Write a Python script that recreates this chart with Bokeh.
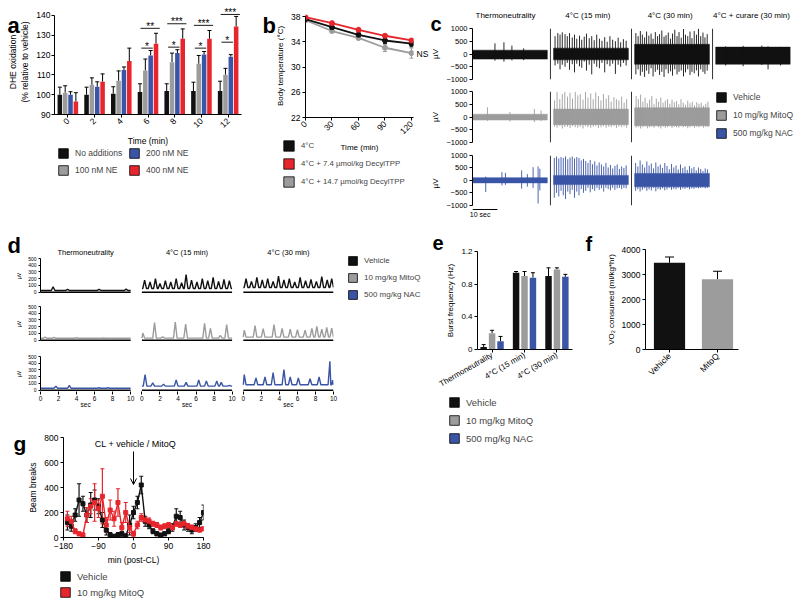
import math
from bokeh.plotting import figure
from bokeh.layouts import row, column
from bokeh.models import (Range1d, FixedTicker, Legend, LegendItem, Whisker, TeeHead,
                          ColumnDataSource, Label, Arrow, OpenHead, GridBox)
from bokeh.core.properties import value
from bokeh.embed import file_html
from bokeh.resources import INLINE

FONT = "Liberation Sans"
BLACK = "#111111"
GRAY = "#9c9c9c"
BLUE = "#3a55a6"
RED = "#e6262c"

# ---------------- panel a data ----------------
a_times = [0, 2, 4, 6, 8, 10, 12]
a_labels = ["No additions", "100 nM NE", "200 nM NE", "400 nM NE"]
a_none = [100, 100, 100.5, 101.3, 101.8, 101.8, 101.8]
a_none_err = [3.8, 3.8, 3.5, 4.2, 3.7, 4.5, 5.0]
a_ne100 = [101, 105, 107, 112.2, 116.4, 115.6, 110.1]
a_ne100_err = [3.5, 3.5, 5.0, 5.8, 4.6, 4.2, 3.2]
a_ne200 = [100, 104, 112.5, 119.8, 121, 120.3, 119.2]
a_ne200_err = [1.5, 2.5, 1.5, 2.5, 1.7, 1.5, 1.0]
a_ne400 = [96.5, 106.5, 117, 125.7, 128.2, 128.2, 134.4]
a_ne400_err = [4.5, 4.0, 6.5, 5.3, 5.0, 4.2, 5.1]
a_sig_times = [6, 8, 10, 12]
a_sig_low_y = [123.5, 124, 123.5, 126.5]
a_sig_low_txt = ["*", "*", "*", "*"]
a_sig_high_y = [133.5, 135.8, 135, 140.5]
a_sig_high_txt = ["**", "***", "***", "***"]

# ---------------- panel b data ----------------
b_times = [0, 30, 60, 90, 120]
b_labels = ["4°C", "4°C + 7.4 µmol/kg DecylTPP", "4°C + 14.7 µmol/kg DecylTPP"]
b_cold = [37.6, 36.3, 35.1, 34.2, 33.7]
b_cold_err = [0.15, 0.3, 0.4, 0.5, 0.5]
b_d74 = [37.9, 36.95, 35.9, 34.95, 34.2]
b_d74_err = [0.1, 0.2, 0.2, 0.2, 0.25]
b_d147 = [37.4, 35.7, 34.6, 33.05, 32.2]
b_d147_err = [0.2, 0.25, 0.3, 0.6, 0.8]

# ---------------- panel c data (EMG: band half-widths + spikes, µV; t in s) ----------------
c_titles = ["Thermoneutrality", "4°C (15 min)", "4°C (30 min)", "4°C + curare (30 min)"]
group_labels = ["Vehicle", "10 mg/kg MitoQ", "500 mg/kg NAC"]
c_veh_thermo = dict(band=(150, -200), t=[9.0, 12.6, 15.8, 20.5], up=[420, 460, 330, 220], down=[-260, -300, -250, -240])
c_veh_15 = dict(band=(230, -230),
                t=[0.6, 1.7, 2.6, 3.5, 4.6, 5.5, 6.4, 7.5, 8.4, 9.3, 10.4, 11.3, 12.3, 13.2, 14.3, 15.3, 16.3, 17.3, 18.4, 19.4, 20.5, 21.5, 22.6, 23.7, 24.8, 25.9, 26.9, 28.0, 29.1],
                up=[700, 820, 760, 850, 780, 700, 820, 650, 760, 600, 720, 560, 680, 800, 620, 700, 540, 760, 600, 520, 660, 480, 700, 560, 500, 640, 460, 580, 520],
                down=[-450, -380, -600, -420, -500, -350, -620, -400, -720, -380, -480, -540, -300, -650, -420, -800, -380, -500, -560, -350, -720, -400, -480, -380, -780, -420, -500, -350, -450])
c_veh_30 = dict(band=(380, -400),
                t=[0.5, 1.4, 2.3, 3.1, 4.0, 4.8, 5.7, 6.6, 7.4, 8.3, 9.2, 10.0, 10.9, 11.8, 12.6, 13.5, 14.4, 15.2, 16.1, 17.0, 17.8, 18.7, 19.6, 20.4, 21.3, 22.2, 23.0, 23.9, 24.8, 25.6, 26.5, 27.4, 28.2, 29.1],
                up=[820, 700, 900, 760, 650, 880, 720, 800, 600, 860, 700, 780, 920, 680, 740, 840, 600, 800, 950, 700, 860, 640, 980, 760, 700, 880, 620, 900, 760, 990, 700, 840, 650, 780],
                down=[-800, -600, -850, -700, -900, -650, -780, -560, -880, -700, -620, -820, -700, -900, -600, -760, -680, -850, -600, -800, -700, -650, -880, -720, -600, -820, -700, -760, -640, -880, -600, -700, -780, -650])
c_veh_curare = dict(band=(270, -400), t=[4.0, 11.0, 18.5, 21.0, 26.0], up=[300, 320, 330, 300, 280], down=[-450, -480, -430, -600, -450])
c_mq_thermo = dict(band=(110, -120), t=[6.0, 15.0, 24.8, 27.5], up=[380, 200, 320, 260], down=[-150, -180, -200, -160])
c_mq_15 = dict(band=(310, -300),
               t=[0.4, 1.4, 2.5, 3.5, 4.5, 5.6, 6.6, 7.6, 8.7, 9.7, 10.7, 11.8, 12.8, 13.8, 14.9, 15.9, 16.9, 18.0, 19.0, 20.0, 21.1, 22.1, 23.1, 24.2, 25.2, 26.2, 27.3, 28.3, 29.3],
               up=[650, 980, 700, 900, 990, 800, 950, 720, 990, 850, 900, 680, 980, 760, 920, 700, 960, 820, 650, 900, 720, 850, 600, 780, 700, 650, 800, 560, 700],
               down=[-380, -420, -350, -450, -400, -380, -430, -360, -400, -420, -380, -450, -360, -400, -420, -380, -350, -430, -400, -360, -420, -380, -400, -350, -430, -380, -400, -360, -420])
c_mq_30 = dict(band=(360, -340),
               t=[0.6, 1.5, 2.4, 3.3, 4.2, 5.1, 6.0, 6.9, 7.8, 8.7, 9.6, 10.5, 11.4, 12.3, 13.2, 14.1, 15.0, 15.9, 16.8, 17.7, 18.6, 19.5, 20.4, 21.3, 22.2, 23.1, 24.0, 24.9, 25.8, 26.7, 27.6, 28.5, 29.4],
               up=[820, 700, 880, 600, 760, 540, 680, 820, 500, 720, 600, 760, 560, 640, 700, 520, 680, 580, 620, 500, 700, 560, 480, 640, 540, 600, 460, 580, 520, 560, 440, 520, 600],
               down=[-420, -380, -450, -400, -360, -440, -400, -380, -420, -360, -400, -450, -380, -420, -400, -360, -440, -380, -400, -420, -360, -400, -380, -440, -400, -360, -420, -380, -400, -360, -420, -380, -400])
c_nac_thermo = dict(band=(110, -100), t=[5.3, 11.8, 13.2, 19.7, 22.0, 24.3, 26.3, 27.0], up=[150, 330, 300, 400, 250, 530, 560, 470], down=[-470, -200, -180, -330, -250, -300, -930, -400])
c_nac_15 = dict(band=(200, -170),
                t=[0.3, 1.2, 2.1, 3.0, 3.9, 4.8, 5.7, 6.6, 7.5, 8.4, 9.3, 10.2, 11.1, 12.0, 12.9, 13.8, 14.7, 15.6, 16.5, 17.4, 18.3, 19.2, 20.1, 21.0, 21.9, 22.8, 23.7, 24.6, 25.5, 26.4, 27.3, 28.2, 29.1],
                up=[900, 960, 880, 940, 900, 960, 850, 920, 960, 880, 940, 900, 800, 860, 780, 700, 820, 650, 760, 600, 720, 640, 560, 700, 520, 620, 480, 580, 640, 460, 560, 500, 600],
                down=[-700, -500, -650, -420, -600, -750, -450, -550, -380, -700, -450, -600, -350, -500, -420, -300, -480, -350, -420, -300, -380, -320, -450, -300, -350, -400, -300, -380, -320, -300, -350, -300, -320])
c_nac_30 = dict(band=(280, -260),
                t=[0.4, 1.3, 2.2, 3.1, 4.0, 4.9, 5.8, 6.7, 7.6, 8.5, 9.4, 10.3, 11.2, 12.1, 13.0, 13.9, 14.8, 15.7, 16.6, 17.5, 18.4, 19.3, 20.2, 21.1, 22.0, 22.9, 23.8, 24.7, 25.6, 26.5, 27.4, 28.3, 29.2],
                up=[700, 560, 800, 640, 520, 760, 600, 680, 480, 720, 560, 640, 500, 700, 580, 450, 660, 520, 600, 440, 640, 500, 560, 420, 580, 480, 540, 400, 520, 460, 380, 480, 440],
                down=[-420, -350, -450, -380, -320, -420, -360, -400, -300, -440, -350, -380, -320, -400, -360, -300, -380, -340, -360, -300, -380, -320, -340, -300, -360, -320, -340, -300, -320, -300, -280, -320, -300])

# ---------------- panel d data (integrated EMG: baseline + peaks, µV; t in s) ----------------
d_titles = ["Thermoneutrality", "4°C (15 min)", "4°C (30 min)"]
d_veh_thermo = dict(base=25, t=[1.4, 3.0, 6.5, 9.5], h=[80, 40, 40, 45])
d_veh_15 = dict(base=55, t=[0.3, 0.9, 1.5, 2.0, 2.6, 3.2, 3.8, 4.4, 4.9, 5.5, 6.1, 6.7, 7.3, 7.9, 8.5, 9.1, 9.7],
                h=[180, 150, 200, 130, 170, 150, 200, 140, 260, 180, 150, 200, 170, 220, 160, 190, 170])
d_veh_30 = dict(base=70, t=[0.3, 0.9, 1.5, 2.1, 2.7, 3.3, 3.9, 4.5, 5.1, 5.7, 6.3, 6.9, 7.5, 8.1, 8.7, 9.3, 9.8],
                h=[200, 160, 220, 180, 200, 160, 240, 180, 200, 150, 220, 170, 190, 160, 230, 180, 200])
d_mq_thermo = dict(base=28, t=[0.5, 1.5, 4.0, 7.0], h=[45, 42, 35, 32])
d_mq_15 = dict(base=30, t=[0.1, 1.4, 2.3, 3.7, 4.85, 6.95, 7.6, 8.7, 9.4], h=[105, 260, 50, 270, 240, 250, 175, 70, 230])
d_mq_30 = dict(base=45, t=[0.1, 1.3, 2.2, 3.4, 4.3, 5.2, 6.0, 6.85, 7.6, 8.15, 8.7, 9.25, 9.8],
               h=[150, 215, 170, 230, 175, 165, 155, 150, 175, 205, 165, 190, 180])
d_nac_thermo = dict(base=28, t=[1.7, 3.2, 6.5, 7.5], h=[60, 70, 35, 35])
d_nac_15 = dict(base=60, t=[0.35, 1.2, 2.4, 3.8, 4.9, 6.3, 7.15, 8.3, 8.8, 9.7], h=[230, 110, 90, 150, 115, 150, 135, 135, 115, 70])
d_nac_30 = dict(base=80, t=[0.1, 1.4, 2.4, 3.3, 4.5, 5.2, 6.1, 7.4, 8.4, 9.6, 9.9], h=[230, 180, 195, 260, 305, 195, 180, 170, 195, 430, 150])
d_sec_ticks = [0, 2, 4, 6, 8, 10]

# ---------------- panel e data ----------------
e_cats = ["Thermoneutrality", "4°C (15 min)", "4°C (30 min)"]
e_veh = [0.03, 0.94, 0.90]
e_veh_err = [0.03, 0.015, 0.10]
e_mq = [0.20, 0.90, 0.98]
e_mq_err = [0.035, 0.055, 0.02]
e_nac = [0.10, 0.88, 0.89]
e_nac_err = [0.06, 0.06, 0.03]

# ---------------- panel f data ----------------
f_cats = ["Vehicle", "MitoQ"]
f_vals = [3470, 2810]
f_errs = [230, 320]

# ---------------- panel g data ----------------
g_labels = ["Vehicle", "10 mg/kg MitoQ"]
g_t = [-170, -160, -150, -140, -130, -120, -110, -100, -90, -80, -70, -60, -50, -40, -30, -20, -10, 0,
       10, 20, 30, 40, 50, 60, 70, 80, 90, 100, 110, 120, 130, 140, 150, 160, 170, 180]
g_veh = [120, 90, 180, 300, 270, 180, 260, 300, 250, 140, 60, 20, 10, 20, 30, 10, 100, 200,
         280, 420, 130, 100, 50, 30, 20, 30, 50, 80, 170, 160, 100, 80, 60, 80, 120, 200]
g_veh_err = [60, 40, 50, 130, 60, 60, 100, 80, 60, 60, 40, 20, 10, 20, 20, 20, 80, 50,
             50, 70, 40, 30, 20, 15, 10, 15, 20, 30, 60, 50, 40, 30, 30, 30, 40, 60]
g_mq = [150, 130, 50, 30, 20, 180, 250, 280, 230, 330, 100, 220, 150, 280, 80, 200, 80, 30,
        100, 160, 140, 130, 110, 100, 80, 90, 100, 80, 110, 100, 110, 90, 80, 70, 60, 70]
g_mq_err = [60, 40, 20, 15, 15, 60, 60, 150, 70, 220, 60, 80, 60, 110, 40, 80, 40, 20,
            30, 30, 25, 25, 20, 20, 20, 20, 20, 20, 20, 20, 20, 20, 20, 20, 15, 15]

NAN = float("nan")


# ================= helpers =================
def make_fig(X0, Y0, W, H, FL, FT, FW, FH, xr, yr):
    """Figure whose canvas is (X0, Y0, W, H) and frame (FL, FT, FW, FH), in page pixels."""
    p = figure(width=W, height=H, x_range=Range1d(*xr), y_range=Range1d(*yr),
               output_backend="svg", toolbar_location=None, title=None, frame_align=False,
               min_border_left=FL - X0, min_border_right=X0 + W - FL - FW,
               min_border_top=FT - Y0, min_border_bottom=Y0 + H - FT - FH)
    p.outline_line_color = None
    p.xgrid.visible = False
    p.ygrid.visible = False
    p.background_fill_color = "white"
    p.border_fill_color = "white"
    geo = (FL, FT, FW, FH, xr, yr)
    return p, geo


def page_x(geo, x):
    FL, FT, FW, FH, xr, yr = geo
    return FL + (x - xr[0]) / (xr[1] - xr[0]) * FW


def page_y(geo, y):
    FL, FT, FW, FH, xr, yr = geo
    return FT + (yr[1] - y) / (yr[1] - yr[0]) * FH


def style_axes(p, tick_fs, label_fs):
    for ax in list(p.xaxis) + list(p.yaxis):
        ax.axis_line_color = "black"
        ax.axis_line_width = 1
        ax.major_tick_line_color = "black"
        ax.major_tick_line_width = 1
        ax.major_tick_out = 3
        ax.major_tick_in = 0
        ax.minor_tick_line_color = None
        ax.major_label_text_font = FONT
        ax.major_label_text_font_size = tick_fs
        ax.major_label_text_color = "black"
        ax.axis_label_text_font = FONT
        ax.axis_label_text_font_size = label_fs
        ax.axis_label_text_font_style = "normal"
        ax.axis_label_text_color = "black"
        ax.major_label_standoff = 2
        ax.axis_label_standoff = 3


def lab(p, x, y, text, size, align="center", baseline="middle", bold=False):
    p.add_layout(Label(x=x, y=y, text=text, text_font=FONT, text_font_size=size,
                       text_align=align, text_baseline=baseline, text_color="black",
                       text_font_style="bold" if bold else "normal"))


def add_err(p, xs, tops, errs, color="black", both=False, size=4, lw=1):
    lower = [t - e for t, e in zip(tops, errs)] if both else list(tops)
    upper = [t + e for t, e in zip(tops, errs)]
    src = ColumnDataSource(dict(base=list(xs), lower=lower, upper=upper))
    w = Whisker(source=src, base="base", lower="lower", upper="upper",
                line_color=color, line_width=lw,
                upper_head=TeeHead(size=size, line_color=color, line_width=lw),
                lower_head=TeeHead(size=size, line_color=color, line_width=lw) if both else None)
    p.add_layout(w)


# overlay figure: page-pixel coordinates, used for panel letters, titles and legends
OV_W, OV_H = 800, 606
ov = figure(width=OV_W, height=OV_H, x_range=Range1d(0, OV_W), y_range=Range1d(OV_H, 0),
            output_backend="svg", toolbar_location=None, title=None, frame_align=False,
            x_axis_location=None, y_axis_location=None,
            min_border_left=0, min_border_right=0, min_border_top=0, min_border_bottom=0)
ov.outline_line_color = None
ov.xgrid.visible = False
ov.ygrid.visible = False
ov.background_fill_color = None
ov.border_fill_color = None


def ov_legend(entries, left, bottom, glyph, spacing, fs, standoff=6):
    items = []
    for label, color in entries:
        # swatch-only renderer (NaN = nothing drawn in the plot itself)
        r = ov.vbar(x=[NAN], top=[NAN], width=1, fill_color=color, line_color="black", line_width=0.8)
        items.append(LegendItem(label=value(label), renderers=[r]))
    leg = Legend(items=items, location=(left, OV_H - bottom), orientation="vertical",
                 glyph_width=glyph, glyph_height=glyph, label_height=glyph,
                 spacing=spacing, padding=0, margin=0, border_line_alpha=0,
                 background_fill_alpha=0, label_text_font=FONT, label_text_font_size=fs,
                 label_standoff=standoff, label_text_baseline="middle")
    ov.add_layout(leg)


def letter(x, y, t, size="22px"):
    lab(ov, x, y, t, size, align="left", baseline="alphabetic", bold=True)


# ================= panel a =================
pa, ga = make_fig(0, 0, 250, 225, 54, 9, 187, 105, (-1, 13), (90, 143))
a_vals = [a_none, a_ne100, a_ne200, a_ne400]
a_errs = [a_none_err, a_ne100_err, a_ne200_err, a_ne400_err]
a_cols = [BLACK, GRAY, BLUE, RED]
a_offs = [-0.6, -0.2, 0.2, 0.6]
for vals, errs, col, off in zip(a_vals, a_errs, a_cols, a_offs):
    xs = [t + off for t in a_times]
    pa.vbar(x=xs, top=vals, bottom=90, width=0.34, fill_color=col, line_color=None)
    add_err(pa, xs, vals, errs, size=4)
for t, yl, tl, yh, th in zip(a_sig_times, a_sig_low_y, a_sig_low_txt, a_sig_high_y, a_sig_high_txt):
    pa.segment(x0=[t - 0.5], x1=[t + 0.36], y0=[yl], y1=[yl], line_color="black", line_width=0.9)
    pa.segment(x0=[t - 0.56], x1=[t + 0.88], y0=[yh], y1=[yh], line_color="black", line_width=0.9)
    lab(ov, page_x(ga, t - 0.07), page_y(ga, yl) - 2, tl, "10px", baseline="alphabetic")
    lab(ov, page_x(ga, t + 0.16), page_y(ga, yh) - 2, th, "10px", baseline="alphabetic")
pa.xaxis.ticker = FixedTicker(ticks=a_times)
pa.yaxis.ticker = FixedTicker(ticks=[90, 100, 110, 120, 130, 140])
pa.yaxis.bounds = (90, 140)
pa.xaxis.axis_label = "Time (min)"
pa.yaxis.axis_label = "DHE oxidation\n(% relative to vehicle)"
style_axes(pa, "8.5px", "8.5px")
pa.xaxis.major_label_orientation = math.pi / 4
pa.yaxis.major_label_standoff = 1
ov_legend([(a_labels[0], BLACK), (a_labels[1], GRAY)], 57, 176, 12, 5, "8.5px")
ov_legend([(a_labels[2], BLUE), (a_labels[3], RED)], 128, 176, 12, 5, "8.5px")
letter(7, 25, "a")

# ================= panel b =================
pb, gb = make_fig(250, 0, 178, 225, 305, 14, 108, 103, (0, 122.3), (22, 22 + 103 / 6.3125))
for vals, errs, col in [(b_d147, b_d147_err, GRAY), (b_cold, b_cold_err, BLACK), (b_d74, b_d74_err, RED)]:
    pb.line(b_times, vals, line_color=col, line_width=1.8)
    pb.scatter(b_times, vals, marker="circle", size=5, fill_color=col, line_color=col)
    add_err(pb, b_times, vals, errs, color=col, both=True, size=4)
lab(ov, 416, 53, "NS", "8.5px", align="left")
pb.xaxis.ticker = FixedTicker(ticks=b_times)
pb.yaxis.ticker = FixedTicker(ticks=[22, 26, 30, 34, 38])
pb.yaxis.bounds = (22, 38)
pb.xaxis.axis_label = "Time (min)"
pb.yaxis.axis_label = "Body temperature (°C)"
style_axes(pb, "8.5px", "8px")
pb.xaxis.major_label_orientation = math.pi / 4
ov_legend([(b_labels[0], BLACK), (b_labels[1], RED), (b_labels[2], GRAY)], 282, 188, 13, 5, "7.8px")
letter(262, 25, "b")

# ================= panel c =================
C_OFF = [0, 32.5, 65, 97.5]
C_SEP = [31.25, 63.75, 96.25]


def draw_emg(p, off, tr, color):
    p.quad(left=[off], right=[off + 30], bottom=[tr["band"][1]], top=[tr["band"][0]],
           fill_color=color, line_color=color, line_width=0.5)
    xs = [off + t for t in tr["t"]]
    p.segment(x0=xs, x1=xs, y0=tr["down"], y1=tr["up"], line_color=color, line_width=0.9)


c_rows = [
    ([c_veh_thermo, c_veh_15, c_veh_30, c_veh_curare], BLACK, 0, 85, 28, 51, (-1000, 1000)),
    ([c_mq_thermo, c_mq_15, c_mq_30], GRAY, 85, 64, 91, 51, (-1000, 1000)),
    ([c_nac_thermo, c_nac_15, c_nac_30], BLUE, 149, 76, 155, 56, (-1250, 1000)),
]
c_figs = []
gc = None
for i, (traces, col, Y0, H, FT, FH, yr) in enumerate(c_rows):
    p, geo = make_fig(428, Y0, 372, H, 467, FT, 323, FH, (0, 127.5), yr)
    for k, tr in enumerate(traces):
        draw_emg(p, C_OFF[k], tr, col)
    nsep = 3 if i == 0 else 2
    for s in C_SEP[:nsep]:
        p.segment(x0=[s], x1=[s], y0=[-1000], y1=[1000], line_color="#333333", line_width=1)
    p.xaxis.visible = False
    p.yaxis.ticker = FixedTicker(ticks=[-1000, -500, 0, 500, 1000])
    p.yaxis.bounds = (-1000, 1000)
    p.yaxis.axis_label = "µV"
    style_axes(p, "7.5px", "8px")
    if i == 0:
        gc = geo
    if i == 2:
        p.segment(x0=[0], x1=[10], y0=[-1170], y1=[-1170], line_color="black", line_width=1)
        lab(ov, page_x(geo, 5), 214, "10 sec", "7px")
    c_figs.append(p)
for k, ttl in enumerate(c_titles[:3]):
    lab(ov, page_x(gc, C_OFF[k] + 15), 15, ttl, "8px")
lab(ov, 751, 15, c_titles[3], "8px")
letter(430, 23, "c", "20px")
ov_legend([(group_labels[0], BLACK), (group_labels[1], GRAY), (group_labels[2], BLUE)],
          715, 139, 12, 6, "8.5px")

# ================= panel d =================
D_OFF = [0, 11.25, 22.5]


def envelope(tr):
    pts = [(0.0, tr["base"]), (10.0, tr["base"])]
    for t, h in zip(tr["t"], tr["h"]):
        pts += [(max(t - 0.2, 0.0), tr["base"]), (t, h), (min(t + 0.2, 10.0), tr["base"])]
    pts.sort()
    return [q[0] for q in pts], [q[1] for q in pts]


d_rows = [
    ([d_veh_thermo, d_veh_15, d_veh_30], BLACK, 225, 77, 258),
    ([d_mq_thermo, d_mq_15, d_mq_30], GRAY, 302, 48, 306),
    ([d_nac_thermo, d_nac_15, d_nac_30], BLUE, 350, 78, 356),
]
d_figs = []
gd = None
for i, (traces, col, Y0, H, FT) in enumerate(d_rows):
    p, geo = make_fig(0, Y0, 430, H, 40, FT, 293, 35, (0, 32.5), (-20, 500))
    for k, tr in enumerate(traces):
        xs, ys = envelope(tr)
        p.line([D_OFF[k] + x for x in xs], ys, line_color=col, line_width=1.4)
        p.segment(x0=[D_OFF[k]], x1=[D_OFF[k] + 10], y0=[0], y1=[0], line_color="black", line_width=1.5)
    p.yaxis.ticker = FixedTicker(ticks=[0, 100, 200, 300, 400, 500])
    p.yaxis.bounds = (0, 500)
    p.yaxis.axis_label = "µV"
    style_axes(p, "5px", "5px")
    p.yaxis.major_tick_out = 2
    p.xaxis.axis_line_color = None
    if i < 2:
        p.xaxis.visible = False
    else:
        ticks = []
        over = {}
        for o in D_OFF:
            for s in d_sec_ticks:
                ticks.append(o + s)
                over[o + s] = str(s)
        p.xaxis.ticker = FixedTicker(ticks=ticks)
        p.xaxis.major_label_overrides = over
        p.xaxis.major_label_text_font_size = "6.5px"
        p.xaxis.major_label_standoff = 1
        for o in D_OFF:
            lab(ov, page_x(geo, o + 5), 404, "sec", "6.5px")
    if i == 0:
        gd = geo
    d_figs.append(p)
for k, ttl in enumerate(d_titles):
    lab(ov, page_x(gd, D_OFF[k] + 5), 252, ttl, "7.5px")
letter(7, 245, "d")
ov_legend([(group_labels[0], BLACK), (group_labels[1], GRAY), (group_labels[2], BLUE)],
          347, 300, 11, 6, "8px")

# ================= panel g =================
pg, gg = make_fig(0, 428, 430, 178, 63, 437, 140, 100, (-180, 180), (0, 800))
for vals, errs, col in [(g_veh, g_veh_err, BLACK), (g_mq, g_mq_err, RED)]:
    add_err(pg, g_t, vals, errs, color=col, both=True, size=4, lw=1.2)
    pg.line(g_t, vals, line_color=col, line_width=1.4)
    pg.scatter(g_t, vals, marker="square", size=4, fill_color=col, line_color=col)
pg.xaxis.ticker = FixedTicker(ticks=[-180, -90, 0, 90, 180])
pg.yaxis.ticker = FixedTicker(ticks=[0, 200, 400, 600, 800])
pg.xaxis.axis_label = "min (post-CL)"
pg.yaxis.axis_label = "Beam breaks"
style_axes(pg, "8.5px", "8.5px")
lab(ov, 135, 443, "CL + vehicle / MitoQ", "9px")
pg.add_layout(Arrow(end=OpenHead(size=6, line_width=1, line_color="black"),
                    x_start=0, y_start=(537 - 451) * 8, x_end=0, y_end=(537 - 484) * 8,
                    line_width=1, line_color="black"))
ov_legend([(g_labels[0], BLACK), (g_labels[1], RED)], 59, 598, 12, 4, "9.5px")
letter(13, 443, "g", "21px")

# ================= panel e =================
pe, ge = make_fig(430, 225, 150, 381, 477, 251, 95, 98, (-0.45, 2.48), (0, 1.2))
e_idx = list(range(len(e_cats)))
for vals, errs, col, off in [(e_veh, e_veh_err, BLACK, -0.26), (e_mq, e_mq_err, GRAY, 0.0), (e_nac, e_nac_err, BLUE, 0.26)]:
    xs = [i + off for i in e_idx]
    pe.vbar(x=xs, top=vals, width=0.2, fill_color=col, line_color=None)
    add_err(pe, xs, vals, errs, size=4)
pe.xaxis.ticker = FixedTicker(ticks=e_idx)
pe.xaxis.major_label_overrides = {i: c for i, c in zip(e_idx, e_cats)}
pe.yaxis.ticker = FixedTicker(ticks=[0.0, 0.4, 0.8, 1.2])
pe.yaxis.bounds = (0, 1.2)
pe.yaxis.axis_label = "Burst frequency (Hz)"
style_axes(pe, "8px", "8px")
pe.xaxis.major_label_orientation = math.pi / 6
ov_legend([(group_labels[0], BLACK), (group_labels[1], GRAY), (group_labels[2], BLUE)],
          448, 444, 12, 6, "9.5px")
letter(432, 242, "e", "20px")

# ================= panel f =================
pf, gf = make_fig(580, 225, 220, 381, 645, 249, 93, 100, (-0.5, 1.4375), (0, 4000))
f_idx = list(range(len(f_cats)))
pf.vbar(x=f_idx, top=f_vals, width=0.65, fill_color=[BLACK, GRAY], line_color=None)
add_err(pf, f_idx, f_vals, f_errs, size=9)
pf.xaxis.ticker = FixedTicker(ticks=f_idx)
pf.xaxis.major_label_overrides = {i: c for i, c in zip(f_idx, f_cats)}
pf.yaxis.ticker = FixedTicker(ticks=[0, 1000, 2000, 3000, 4000])
pf.yaxis.bounds = (0, 4000)
pf.yaxis.axis_label = "VO₂ consumed (ml/kg*hr)"
style_axes(pf, "8.5px", "8px")
pf.xaxis.major_label_orientation = math.pi / 4
letter(585, 243, "f", "20px")

# ================= layout =================
top = row(pa, pb, column(*c_figs))
bottom = row(column(*d_figs, pg), pe, pf)
main = column(top, bottom)
page = GridBox(children=[(main, 0, 0), (ov, 0, 0)])

open("out.html", "w").write(file_html(page, INLINE))
